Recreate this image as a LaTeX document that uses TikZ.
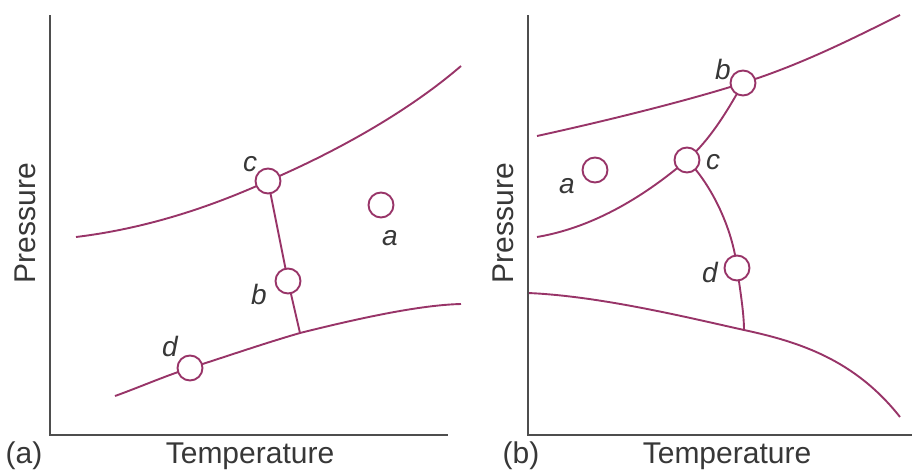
\documentclass[tikz,border=0pt]{standalone}
\usepackage{fontspec}
\setmainfont{Liberation Sans}
\usetikzlibrary{backgrounds}
\definecolor{phase}{RGB}{152,52,104}
\definecolor{axisgray}{RGB}{78,78,78}
\definecolor{textgray}{RGB}{55,55,55}
\tikzset{
  curve/.style={draw=phase, line width=1.9pt},
  pt/.style={circle, draw=phase, fill=white, line width=1.9pt, minimum size=25pt, inner sep=0pt},
  lbl/.style={font=\fontsize{28}{30}\selectfont\itshape, text=textgray, inner sep=0pt},
  axisline/.style={draw=axisgray, line width=2pt},
  axlabel/.style={font=\fontsize{30}{32}\selectfont, text=textgray, inner sep=0pt}
}
\begin{document}
\begin{tikzpicture}[x=1pt,y=-1pt]
\useasboundingbox (0,0) rectangle (914,471);

% ---------- panel (a) ----------
\coordinate (aO) at (50,435);
\coordinate (aT) at (50,15);
\coordinate (aR) at (448,435);
\draw[axisline] (aT) -- (aO) -- (aR);

\node[pt] (ac) at (268,181) {};
\node[pt] (ab) at (288,281) {};
\node[pt] (aa) at (381,205) {};
\node[pt] (ad) at (190,368) {};
\coordinate (aJ) at (300,333);
\coordinate (aU1) at (76,237);
\coordinate (aU2) at (461,66);
\coordinate (aL1) at (115,396);
\coordinate (aL2) at (461,304);

\begin{scope}[on background layer]
\draw[curve] (aU1) .. controls (150,228) and (215,205) .. (ac.center)
  .. controls (340,150) and (410,110) .. (aU2);
\draw[curve] (aL1) .. controls (140,387) and (165,376) .. (ad.center)
  .. controls (225,357) and (262,344) .. (aJ)
  .. controls (360,318) and (420,305) .. (aL2);
\draw[curve] (ac.center) -- (ab.center) -- (aJ);
\end{scope}

\node[lbl] (lac) at (250,164) {c};
\node[lbl] (laa) at (390,238) {a};
\node[lbl] (lab) at (259,294) {b};
\node[lbl] (lad) at (170,346) {d};

\node[axlabel, rotate=90, anchor=base] (aP) at (35,223) {Pressure};
\node[axlabel, anchor=base] (aTemp) at (250,463) {Temperature};
\node[axlabel, anchor=base] (aTag) at (24,463) {(a)};

% ---------- panel (b) ----------
\coordinate (bO) at (528,435);
\coordinate (bT) at (528,15);
\coordinate (bR) at (912,435);
\draw[axisline] (bT) -- (bO) -- (bR);

\node[pt] (bb) at (743,83) {};
\node[pt] (bc) at (687,160) {};
\node[pt] (bd) at (737,268) {};
\node[pt] (ba) at (595,170) {};
\coordinate (bJ) at (744,330);
\coordinate (bU1) at (537,136);
\coordinate (bU2) at (900,15);
\coordinate (bM1) at (537,237);
\coordinate (bL1) at (528,293);
\coordinate (bL2) at (900,417);

\begin{scope}[on background layer]
\draw[curve] (bU1) .. controls (610,120) and (690,100) .. (bb.center)
  .. controls (800,65) and (850,40) .. (bU2);
\draw[curve] (bM1) .. controls (590,228) and (640,200) .. (bc.center)
  .. controls (710,140) and (728,110) .. (bb.center);
\draw[curve] (bc.center) .. controls (712,185) and (733,230) .. (bd.center)
  .. controls (741,295) and (744,315) .. (bJ);
\draw[curve] (bL1) .. controls (600,296) and (690,318) .. (bJ)
  .. controls (800,342) and (855,360) .. (bL2);
\end{scope}

\node[lbl] (lbb) at (723,69) {b};
\node[lbl] (lbc) at (713,162) {c};
\node[lbl] (lba) at (567,186) {a};
\node[lbl] (lbd) at (710,272) {d};

\node[axlabel, rotate=90, anchor=base] (bP) at (513,223) {Pressure};
\node[axlabel, anchor=base] (bTemp) at (727,463) {Temperature};
\node[axlabel, anchor=base] (bTag) at (521,463) {(b)};
\end{tikzpicture}
\end{document}
